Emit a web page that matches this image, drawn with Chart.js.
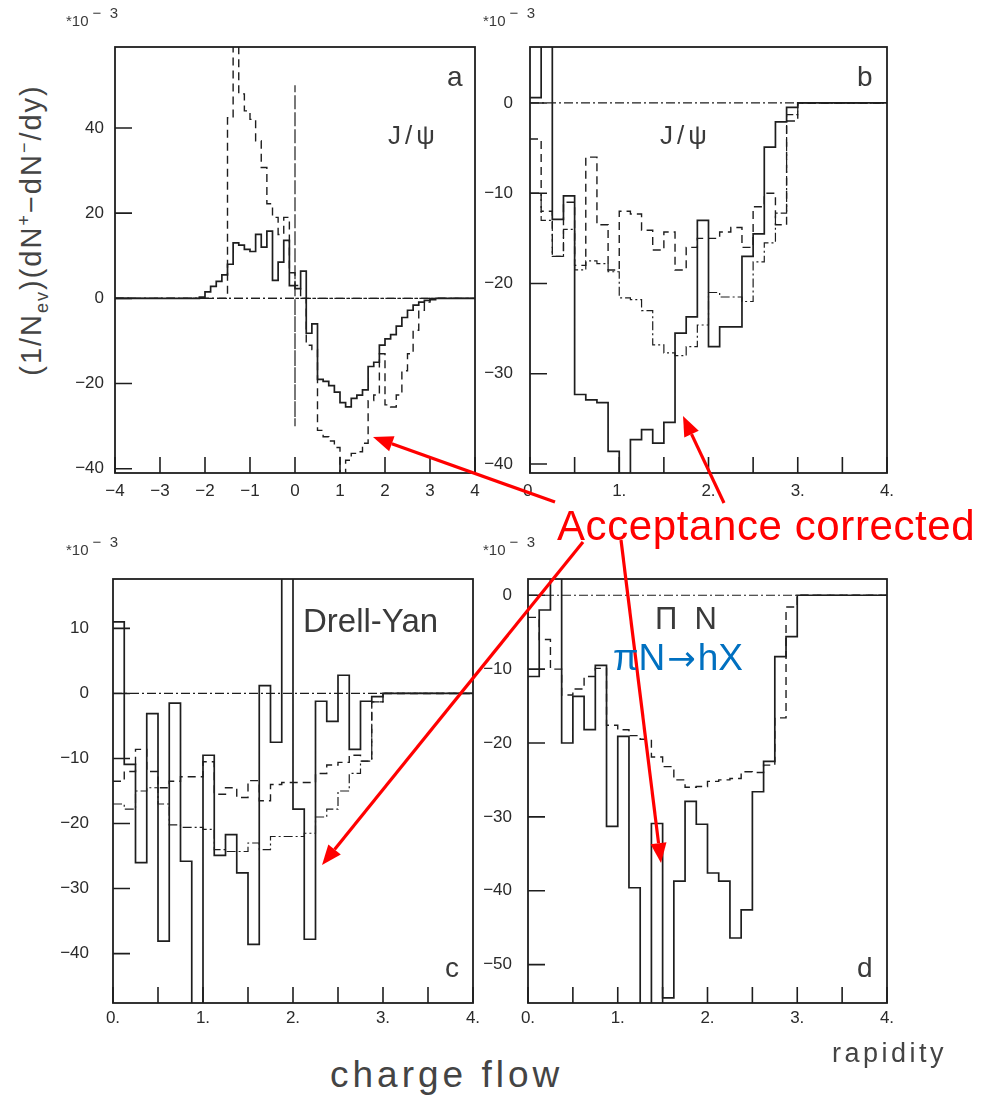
<!DOCTYPE html>
<html><head><meta charset="utf-8">
<script src="https://cdn.jsdelivr.net/npm/chart.js@4"></script>
<style>
body{margin:0;background:#fff;width:982px;height:1101px;position:relative;overflow:hidden;font-family:'Liberation Sans',Arial,sans-serif;}
canvas{position:absolute;}
.t{position:absolute;white-space:nowrap;line-height:1;color:#3a3a3a;}
sub,sup{font-size:62%;}
</style></head><body>
<canvas id="pa"></canvas><canvas id="pb"></canvas><canvas id="pc"></canvas><canvas id="pd"></canvas>

<div class="t" style="left:66px;top:13px;font-size:15px">*10<span style="position:relative;top:-8px;margin-left:4px">−&nbsp;&nbsp;3</span></div>
<div class="t" style="left:483px;top:13px;font-size:15px">*10<span style="position:relative;top:-8px;margin-left:4px">−&nbsp;&nbsp;3</span></div>
<div class="t" style="left:66px;top:542px;font-size:15px">*10<span style="position:relative;top:-8px;margin-left:4px">−&nbsp;&nbsp;3</span></div>
<div class="t" style="left:483px;top:542px;font-size:15px">*10<span style="position:relative;top:-8px;margin-left:4px">−&nbsp;&nbsp;3</span></div>

<div class="t" style="left:33px;top:230px;font-size:29px;letter-spacing:2px;transform:translate(-50%,-50%) rotate(-90deg);color:#444">(1/N<sub>ev</sub>)(dN<sup>+</sup>−dN<sup>−</sup>/dy)</div>

<div class="t" style="left:447px;top:63px;font-size:28px">a</div>
<div class="t" style="left:388px;top:122px;font-size:26px;letter-spacing:4px">J/ψ</div>
<div class="t" style="left:857px;top:63px;font-size:28px">b</div>
<div class="t" style="left:660px;top:122px;font-size:26px;letter-spacing:4px">J/ψ</div>
<div class="t" style="left:303px;top:604px;font-size:33px">Drell-Yan</div>
<div class="t" style="left:445px;top:954px;font-size:28px">c</div>
<div class="t" style="left:655px;top:603px;font-size:31px">Π&nbsp;&nbsp;N</div>
<div class="t" style="left:857px;top:954px;font-size:28px">d</div>

<div class="t" style="left:330px;top:1056px;font-size:37px;letter-spacing:4px;color:#444">charge flow</div>
<div class="t" style="left:832px;top:1040px;font-size:27px;letter-spacing:3.5px;color:#444">rapidity</div>

<svg style="position:absolute;left:0;top:0" width="982" height="1101" id="ov"></svg>
<div class="t" style="left:557px;top:505px;font-size:42px;letter-spacing:0.6px;color:#ff0000">Acceptance corrected</div>
<div class="t" style="left:613px;top:639px;font-size:37px;color:#0070c0">πN<span style="font-family:'DejaVu Sans';font-size:34px;margin:0 2px">→</span>hX</div>

<script>
// ---- bin edges (categories) ----
const edgesA = [-4,-3.875,-3.75,-3.625,-3.5,-3.375,-3.25,-3.125,-3,-2.875,-2.75,-2.625,-2.5,-2.375,-2.25,-2.125,-2,-1.875,-1.75,-1.625,-1.5,-1.375,-1.25,-1.125,-1,-0.875,-0.75,-0.625,-0.5,-0.375,-0.25,-0.125,0,0.125,0.25,0.375,0.5,0.625,0.75,0.875,1,1.125,1.25,1.375,1.5,1.625,1.75,1.875,2,2.125,2.25,2.375,2.5,2.625,2.75,2.875,3,3.125,3.25,3.375,3.5,3.625,3.75,3.875,4];
const edgesR = [0,0.125,0.25,0.375,0.5,0.625,0.75,0.875,1,1.125,1.25,1.375,1.5,1.625,1.75,1.875,2,2.125,2.25,2.375,2.5,2.625,2.75,2.875,3,3.125,3.25,3.375,3.5,3.625,3.75,3.875,4];

// ---- panel a : J/psi (-4..4) ----
const solidA = [0,0,0,0,0,0,0,0,0,0,0,0,0,0,0,
  0.3,1.5,2.8,4,5.5, 8,13,12.5,11.5,11, 15,12,15.8,4.2,8.5, 13.6,3,2.3,6.4,-8.2,
  -6,-19,-19.5,-20.5,-22, -24.5,-25.5,-23.5,-22.7,-21.5, -16,-15,-11,-9.5,-8.5,
  -6.5,-4.5,-2.8,-1.6,-0.9, -0.5,-0.3,0,0,0,0,0,0,0];
const dashedA = [0,0,0,0,0,0,0,0,0,0,0,0,0,0,0,0,0,0,0,0,
  42.4,70,48,44,42, 37,30.7,22.2,19,15, 19,6,3,0,-11,
  -12,-31,-32.5,-33.5,-35, -45,-38,-36.4,-36,-34, -24,-22.7,-13,-25,-25.5,
  -22.7,-17,-13,-7.5,-2.8, -0.9,0,0,0,0,0,0,0,0];
const spikeAX = [-4,0,0,0,0,4];
const spikeAY = [0,0,50,-30,0,0];

// ---- panel b : J/psi (0..4) ----
const solidB = [0.6,10,-12.9,-10.3,-32.3,-32.9,-33.2,-38.6,-45,-37.3,-36.2,-37.7,-35.4,-25.5,-23.7,-13,-27,-24.8,-24.8,-17,-14.5,-4.9,-2.1,-0.5,0,0,0,0,0,0,0,0];
const dashedB = [-4,-12,-17,-11,-18,-6,-13.5,-18.5,-12,-12.3,-14.1,-16.3,-14.3,-18.5,-16,-15,-15,-14.3,-13.8,-16,-11.5,-10,-13.5,-2,0,0,0,0,0,0,0,0];
const dashDotB = [-10,-13,-17,-14,-18.5,-17.5,-17.8,-18.7,-21.6,-21.8,-23,-26.8,-27.7,-28,-27,-24.6,-21,-21.5,-21.5,-22,-17.6,-15.5,-12.2,-1.3,0,0,0,0,0,0,0,0];

// ---- panel c : Drell-Yan ----
const solidC = [11,-10.9,-26,-3.1,-38.1,-1.5,-25.8,-55,-9.5,-24.9,-21.7,-27.6,-38.6,1.2,-7.5,25,-17.8,-37.8,-1.2,-4.3,2.8,-8.6,-1.2,-0.5,0,0,0,0,0,0,0,0];
const dashedC = [-13.5,-12,-8.6,-12,-14.5,-13.5,-12.8,-12.8,-10.5,-15.5,-14.5,-16,-13.4,-16.5,-14,-13.7,-13.7,-13.7,-12.3,-11,-10.6,-9.5,-10.4,-1.3,0,0,0,0,0,0,0,0];
const dashDotC = [-17,-17.8,-15,-14.5,-17,-20.2,-20.6,-20.6,-20.9,-24,-24.3,-24.3,-23,-24,-22,-22,-22,-21.5,-19,-17.8,-15,-12.3,-10.4,-1.3,0,0,0,0,0,0,0,0];

// ---- panel d : pi N ----
const solidD = [-11,-2,5,-20,-13.7,-18.2,-9.5,-31.3,-19.1,-39.6,-60,-30.9,-54.5,-38.7,-27.9,-31,-37.6,-38.7,-46.4,-42.6,-26.6,-22.5,-8.3,-5.6,0,0,0,0,0,0,0,0];
const dashedD = [-3,-6,-10,-13.5,-12.7,-11,-9.9,-17.6,-18.2,-19,-19.5,-21.9,-23.2,-25,-26,-25.9,-25.2,-25,-24.8,-23.9,-24,-23,-16.6,-1.6,0,0,0,0,0,0,0,0];

// ---- zero reference lines ----
const zeroA = [-4,4];
const zeroR = [0,4];

// ---- ticks ----
const xTicksA = [-4,-3,-2,-1,0,1,2,3,4];
const xLabelsA = ['−4','−3','−2','−1','0','1','2','3','4'];
const yTicksA = [-40,-20,0,20,40];
const yLabelsA = ['−40','−20','0','20','40'];
const xTicksR = [0,0.5,1,1.5,2,2.5,3,3.5,4];
const xLabelsR = ['0.','','1.','','2.','','3.','','4.'];
const yTicksB = [-40,-30,-20,-10,0];
const yLabelsB = ['−40','−30','−20','−10','0'];
const yTicksC = [-40,-30,-20,-10,0,10];
const yLabelsC = ['−40','−30','−20','−10','0','10'];
const yTicksD = [-50,-40,-30,-20,-10,0];
const yLabelsD = ['−50','−40','−30','−20','−10','0'];

function hist(edges, vals){
  const pts = vals.map((v,i)=>({x:edges[i], y:v}));
  pts.push({x:edges[vals.length], y:vals[vals.length-1]});
  return pts;
}
function pairs(xs, ys){ return xs.map((x,i)=>({x:x, y:ys[i]})); }

const INK = '#1e1e1e';
function solidSet(d){ return {data:d, stepped:true, borderColor:INK, borderWidth:1.7, pointRadius:0, fill:false}; }
function dashedSet(d){ return {data:d, stepped:true, borderColor:INK, borderWidth:1.4, borderDash:[8,5], pointRadius:0, fill:false}; }
function dashDotSet(d, stepped){ return {data:d, stepped:stepped, borderColor:INK, borderWidth:1.2, borderDash:[9,3,2,3], pointRadius:0, fill:false}; }

const framePlugin = {
  id:'frame',
  afterDatasetsDraw(chart){
    const {ctx, chartArea:a, scales} = chart;
    ctx.save();
    ctx.strokeStyle = INK; ctx.lineWidth = 1.8; ctx.setLineDash([]);
    ctx.strokeRect(a.left, a.top, a.right-a.left, a.bottom-a.top);
    ctx.lineWidth = 1.6;
    ctx.beginPath();
    scales.x.ticks.forEach(t=>{ const p = scales.x.getPixelForValue(t.value); ctx.moveTo(p, a.bottom); ctx.lineTo(p, a.bottom-16); });
    scales.y.ticks.forEach(t=>{ const p = scales.y.getPixelForValue(t.value); ctx.moveTo(a.left, p); ctx.lineTo(a.left+17, p); });
    ctx.stroke();
    ctx.restore();
  }
};

const PT=42, PR=26, YW=62, XH=44;
function panel(id, rect, o){
  const cv = document.getElementById(id);
  const w = rect.r-rect.l+YW+PR, h = rect.b-rect.t+PT+XH;
  cv.width = w; cv.height = h;
  cv.style.left = (rect.l-YW)+'px'; cv.style.top = (rect.t-PT)+'px';
  cv.style.width = w+'px'; cv.style.height = h+'px';
  const font = {family:"'Liberation Sans', Arial, sans-serif", size:17};
  new Chart(cv, {
    type:'line',
    data:{datasets:o.sets},
    options:{
      responsive:false, animation:false, events:[], devicePixelRatio:1,
      layout:{padding:{left:0, top:PT, right:PR, bottom:0}},
      plugins:{legend:{display:false}, tooltip:{enabled:false}},
      scales:{
        x:{type:'linear', min:o.xmin, max:o.xmax,
           afterBuildTicks:s=>{ s.ticks = o.xt.map(v=>({value:v})); },
           afterFit:s=>{ s.height = XH; },
           grid:{display:false, drawTicks:false}, border:{display:false},
           ticks:{padding:o.xpad, autoSkip:false, maxRotation:0, color:'#2a2a2a', font:font, callback:(v,i)=>o.xl[i]}},
        y:{type:'linear', min:o.ymin, max:o.ymax,
           afterBuildTicks:s=>{ s.ticks = o.yt.map(v=>({value:v})); },
           afterFit:s=>{ s.width = YW; },
           grid:{display:false, drawTicks:false}, border:{display:false},
           ticks:{padding:o.ypad, autoSkip:false, color:'#2a2a2a', font:font, callback:(v,i)=>o.yl[i]}}
      }
    },
    plugins:[framePlugin]
  });
}

panel('pa', {l:115,t:47,r:475,b:473}, {
  xmin:-4, xmax:4, ymin:-41, ymax:59, xt:xTicksA, xl:xLabelsA, yt:yTicksA, yl:yLabelsA, xpad:8, ypad:11,
  sets:[solidSet(hist(edgesA, solidA)), dashedSet(hist(edgesA, dashedA)),
        dashDotSet(pairs(spikeAX, spikeAY), false), dashDotSet(pairs(zeroA,[0,0]), false)]
});
panel('pb', {l:530,t:47,r:887,b:473}, {
  xmin:0, xmax:4, ymin:-41, ymax:6.2, xt:xTicksR, xl:xLabelsR, yt:yTicksB, yl:yLabelsB, xpad:8, ypad:17,
  sets:[solidSet(hist(edgesR, solidB)), dashedSet(hist(edgesR, dashedB)),
        dashDotSet(hist(edgesR, dashDotB), true), dashDotSet(pairs(zeroR,[0,0]), false)]
});
panel('pc', {l:113,t:579,r:473,b:1003}, {
  xmin:0, xmax:4, ymin:-47.6, ymax:17.6, xt:xTicksR, xl:xLabelsR, yt:yTicksC, yl:yLabelsC, xpad:5, ypad:24,
  sets:[solidSet(hist(edgesR, solidC)), dashedSet(hist(edgesR, dashedC)),
        dashDotSet(hist(edgesR, dashDotC), true), dashDotSet(pairs(zeroR,[0,0]), false)]
});
panel('pd', {l:528,t:579,r:887,b:1003}, {
  xmin:0, xmax:4, ymin:-55.2, ymax:2.2, xt:xTicksR, xl:xLabelsR, yt:yTicksD, yl:yLabelsD, xpad:5, ypad:16,
  sets:[solidSet(hist(edgesR, solidD)), dashedSet(hist(edgesR, dashedD)),
        dashDotSet(pairs(zeroR,[0,0]), false)]
});

// annotation arrows (overlay)
const arrows = [[555,502,373,437],[724,503,683,416],[583,542,322,865],[621,540,661,863]];
const svg = document.getElementById('ov');
let s = '';
arrows.forEach(([x1,y1,x2,y2])=>{
  const dx=x2-x1, dy=y2-y1, L=Math.hypot(dx,dy), ux=dx/L, uy=dy/L;
  const hl=20, hw=8;
  const bx=x2-ux*hl, by=y2-uy*hl;
  s += `<line x1="${x1}" y1="${y1}" x2="${bx}" y2="${by}" stroke="#ff0000" stroke-width="3.2"/>`;
  s += `<polygon points="${x2},${y2} ${bx-uy*hw},${by+ux*hw} ${bx+uy*hw},${by-ux*hw}" fill="#ff0000"/>`;
});
svg.innerHTML = s;
</script>
</body></html>
